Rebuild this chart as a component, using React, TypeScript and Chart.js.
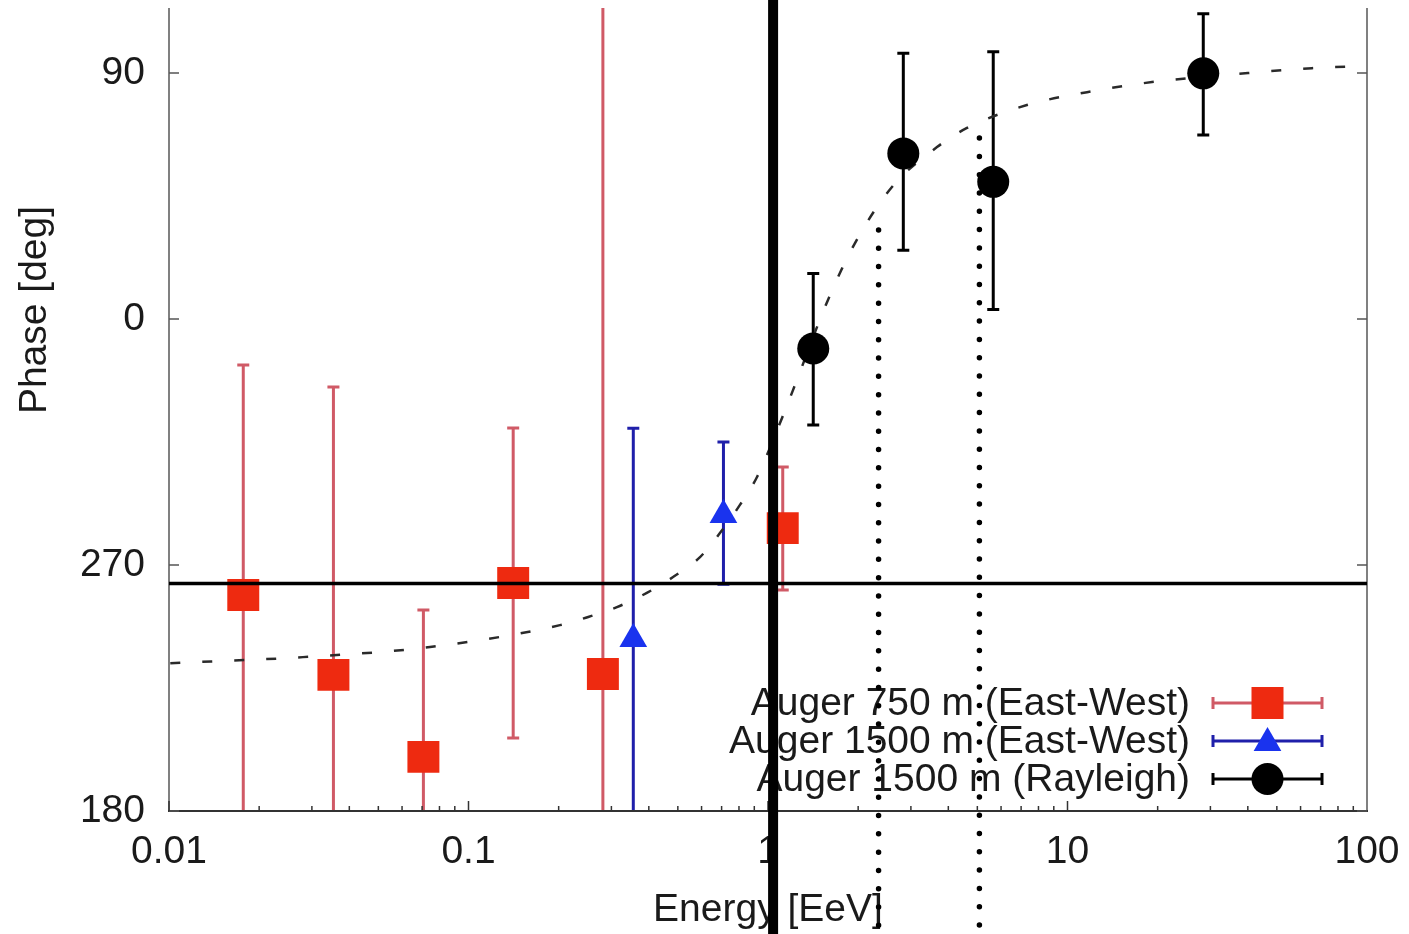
import React, { useEffect, useRef } from 'react';
import { Chart, registerables } from 'chart.js';

Chart.register(...registerables);

const FONT = '"Liberation Sans", Arial, Helvetica, sans-serif';
const TEXT = '#1a1a1a';

// Axis ticks
const xTickValues = [0.01, 0.1, 1, 10, 100];
const xTickLabels = ['0.01', '0.1', '1', '10', '100'];
const yTickValues = [180, 270, 360, 450];
const yTickLabels = ['180', '270', '0', '90'];
const yMin = 180;
const yMax = 473.8;

// Auger 750 m (East-West)
const redEnergy = [0.0177, 0.0354, 0.0707, 0.141, 0.281, 1.12];
const redPhase = [259.0, 229.8, 199.8, 263.4, 230.1, 283.5];
const redLow = [150, 150, 150, 206.7, 150, 260.9];
const redHigh = [343.2, 335.1, 253.5, 320.1, 520, 305.9];

// Auger 1500 m (East-West)
const blueEnergy = [0.355, 0.71];
const bluePhase = [242.9, 288.3];
const blueLow = [150, 263.0];
const blueHigh = [320.0, 315.0];

// Auger 1500 m (Rayleigh)
const blackEnergy = [1.416, 2.83, 5.65, 28.4];
const blackPhase = [349.2, 420.6, 410.2, 449.9];
const blackLow = [321.2, 385.2, 363.5, 427.3];
const blackHigh = [376.7, 457.2, 457.8, 471.7];

// Dashed fit curve
const fitEnergy = [0.0101, 0.028, 0.0744, 0.202, 0.251, 0.313, 0.394, 0.482, 0.593, 0.691, 0.806, 0.919, 1.114, 1.212, 1.586, 1.952, 2.594, 3.667, 4.618, 7.32, 11.62, 19.15, 40.06, 65.5, 100];
const fitPhase = [234.1, 236.3, 240.0, 248.0, 251.0, 254.6, 259.8, 265.6, 272.9, 281.7, 292.0, 302.2, 323.8, 334.0, 367.0, 387.8, 408.3, 422.9, 429.9, 438.3, 443.0, 446.7, 450.0, 451.8, 452.6];

// Annotations
const refLinePhase = 263.2;
const thickLineEnergy = 1.04;
const dottedEnergy = [2.34, 5.08];
const dottedTop = [392.6, 426.2];
const dottedBottom = 138;

const legendLabels = ['Auger 750 m (East-West)', 'Auger 1500 m (East-West)', 'Auger 1500 m (Rayleigh)'];

const RED_FILL = '#ee2a10';
const RED_BAR = '#d05a66';
const BLUE_FILL = '#1a33ee';
const BLUE_BAR = '#1f1faa';
const BLACK = '#000000';

function toPts(xs: number[], ys: number[]) {
  return xs.map((x, i) => ({ x, y: ys[i] }));
}

function drawMarker(ctx: CanvasRenderingContext2D, style: string, x: number, y: number, color: string) {
  ctx.save();
  ctx.fillStyle = color;
  ctx.beginPath();
  if (style === 'rect') {
    ctx.rect(x - 16, y - 16, 32, 32);
  } else if (style === 'triangle') {
    const r = 16;
    ctx.moveTo(x, y - r);
    ctx.lineTo(x + 0.866 * r, y + 0.5 * r);
    ctx.lineTo(x - 0.866 * r, y + 0.5 * r);
    ctx.closePath();
  } else {
    ctx.arc(x, y, 16, 0, Math.PI * 2);
  }
  ctx.fill();
  ctx.restore();
}

const overlayPlugin = {
  id: 'overlay',
  beforeDatasetsDraw(chart: any) {
    const { ctx, chartArea, scales } = chart;
    const xs = scales.x;
    const ys = scales.y;
    ctx.save();
    ctx.beginPath();
    ctx.rect(chartArea.left, chartArea.top, chartArea.right - chartArea.left, chartArea.bottom - chartArea.top);
    ctx.clip();
    const groups = [
      { e: redEnergy, lo: redLow, hi: redHigh, c: RED_BAR },
      { e: blueEnergy, lo: blueLow, hi: blueHigh, c: BLUE_BAR },
      { e: blackEnergy, lo: blackLow, hi: blackHigh, c: BLACK },
    ];
    groups.forEach((g) => {
      ctx.strokeStyle = g.c;
      ctx.lineWidth = 3;
      g.e.forEach((en, i) => {
        const px = xs.getPixelForValue(en);
        const y1 = ys.getPixelForValue(g.lo[i]);
        const y2 = ys.getPixelForValue(g.hi[i]);
        ctx.beginPath();
        ctx.moveTo(px, y1);
        ctx.lineTo(px, y2);
        ctx.moveTo(px - 6, y1);
        ctx.lineTo(px + 6, y1);
        ctx.moveTo(px - 6, y2);
        ctx.lineTo(px + 6, y2);
        ctx.stroke();
      });
    });
    ctx.restore();
  },
  afterDatasetsDraw(chart: any) {
    const { ctx, chartArea, scales } = chart;
    const xs = scales.x;
    const ys = scales.y;
    const { left, right, top, bottom } = chartArea;
    ctx.save();

    // frame
    ctx.lineWidth = 2;
    ctx.strokeStyle = '#808080';
    ctx.beginPath();
    ctx.moveTo(left, top);
    ctx.lineTo(left, bottom);
    ctx.moveTo(right, top);
    ctx.lineTo(right, bottom);
    ctx.stroke();
    ctx.strokeStyle = '#333333';
    ctx.beginPath();
    ctx.moveTo(left - 1, bottom);
    ctx.lineTo(right + 1, bottom);
    ctx.stroke();

    // y ticks (inward, both sides)
    ctx.strokeStyle = '#555555';
    ctx.lineWidth = 1.5;
    yTickValues.forEach((v) => {
      const py = ys.getPixelForValue(v);
      ctx.beginPath();
      ctx.moveTo(left, py);
      ctx.lineTo(left + 10, py);
      ctx.moveTo(right, py);
      ctx.lineTo(right - 10, py);
      ctx.stroke();
    });
    // x ticks (inward, log minor)
    ctx.strokeStyle = '#333333';
    for (let d = 0.01; d < 100; d *= 10) {
      for (let m = 1; m <= 9; m++) {
        const v = d * m;
        const px = xs.getPixelForValue(v);
        const len = m === 1 ? 10 : 5;
        ctx.beginPath();
        ctx.moveTo(px, bottom);
        ctx.lineTo(px, bottom - len);
        ctx.stroke();
      }
    }

    // horizontal reference line
    ctx.strokeStyle = BLACK;
    ctx.lineWidth = 3.5;
    const hy = ys.getPixelForValue(refLinePhase);
    ctx.beginPath();
    ctx.moveTo(left, hy);
    ctx.lineTo(right, hy);
    ctx.stroke();

    // legend
    const legendStyles = [
      { s: 'rect', fill: RED_FILL, bar: RED_BAR },
      { s: 'triangle', fill: BLUE_FILL, bar: BLUE_BAR },
      { s: 'circle', fill: BLACK, bar: BLACK },
    ];
    ctx.font = `39px ${FONT}`;
    ctx.textAlign = 'right';
    ctx.textBaseline = 'middle';
    legendLabels.forEach((lab, i) => {
      const ry = 703 + i * 38;
      ctx.fillStyle = TEXT;
      ctx.fillText(lab, right - 177, ry + 1);
      const st = legendStyles[i];
      const x1 = right - 154;
      const x2 = right - 45;
      ctx.strokeStyle = st.bar;
      ctx.lineWidth = 3;
      ctx.beginPath();
      ctx.moveTo(x1, ry);
      ctx.lineTo(x2, ry);
      ctx.moveTo(x1, ry - 6);
      ctx.lineTo(x1, ry + 6);
      ctx.moveTo(x2, ry - 6);
      ctx.lineTo(x2, ry + 6);
      ctx.stroke();
      drawMarker(ctx, st.s, (x1 + x2) / 2, st.s === 'triangle' ? ry + 2 : ry, st.fill);
    });

    // y axis title
    ctx.save();
    ctx.translate(35, 310);
    ctx.rotate(-Math.PI / 2);
    ctx.textAlign = 'center';
    ctx.textBaseline = 'middle';
    ctx.fillStyle = TEXT;
    ctx.font = `39px ${FONT}`;
    ctx.fillText('Phase [deg]', 0, 0);
    ctx.restore();

    // dotted vertical lines
    ctx.strokeStyle = BLACK;
    ctx.lineWidth = 5.5;
    ctx.lineCap = 'round';
    ctx.setLineDash([0, 18.3]);
    dottedEnergy.forEach((en, i) => {
      const px = xs.getPixelForValue(en);
      ctx.beginPath();
      ctx.moveTo(px, ys.getPixelForValue(dottedTop[i]));
      ctx.lineTo(px, ys.getPixelForValue(dottedBottom));
      ctx.stroke();
    });
    ctx.setLineDash([]);
    ctx.lineCap = 'butt';

    // thick vertical line
    const tx = xs.getPixelForValue(thickLineEnergy);
    ctx.lineWidth = 10;
    ctx.beginPath();
    ctx.moveTo(tx, 0);
    ctx.lineTo(tx, chart.height);
    ctx.stroke();

    ctx.restore();
  },
};

export default function App() {
  const ref = useRef<HTMLCanvasElement | null>(null);
  useEffect(() => {
    if (!ref.current) return;
    const chart = new Chart(ref.current, {
      type: 'scatter',
      data: {
        datasets: [
          {
            label: legendLabels[0],
            data: toPts(redEnergy, redPhase),
            pointStyle: 'rect',
            pointRadius: 22.6,
            pointBackgroundColor: RED_FILL,
            pointBorderWidth: 0,
            borderColor: RED_FILL,
            backgroundColor: RED_FILL,
          },
          {
            label: legendLabels[1],
            data: toPts(blueEnergy, bluePhase),
            pointStyle: 'triangle',
            pointRadius: 16,
            pointBackgroundColor: BLUE_FILL,
            pointBorderWidth: 0,
            borderColor: BLUE_FILL,
            backgroundColor: BLUE_FILL,
          },
          {
            label: legendLabels[2],
            data: toPts(blackEnergy, blackPhase),
            pointStyle: 'circle',
            pointRadius: 16,
            pointBackgroundColor: BLACK,
            pointBorderWidth: 0,
            borderColor: BLACK,
            backgroundColor: BLACK,
          },
          {
            type: 'line',
            label: 'fit',
            data: toPts(fitEnergy, fitPhase),
            borderColor: '#2a2a2a',
            borderWidth: 2.5,
            borderDash: [10, 22],
            pointRadius: 0,
            cubicInterpolationMode: 'monotone',
            fill: false,
          } as any,
        ],
      },
      options: {
        animation: false,
        responsive: false,
        maintainAspectRatio: false,
        devicePixelRatio: 1,
        layout: { autoPadding: false, padding: { top: 8, right: 42, left: 0, bottom: 0 } },
        plugins: { legend: { display: false }, title: { display: false }, tooltip: { enabled: false } },
        scales: {
          x: {
            type: 'logarithmic',
            min: 0.01,
            max: 100,
            grid: { display: false, drawTicks: false },
            border: { display: false },
            afterBuildTicks: (s: any) => {
              s.ticks = xTickValues.map((v) => ({ value: v }));
            },
            afterFit: (s: any) => {
              s.height = 123;
              s.paddingLeft = 0;
              s.paddingRight = 0;
            },
            ticks: {
              autoSkip: false,
              maxRotation: 0,
              minRotation: 0,
              padding: 18,
              color: TEXT,
              font: { family: FONT, size: 39 },
              callback: (v: any) => {
                const i = xTickValues.indexOf(Number(v));
                return i >= 0 ? xTickLabels[i] : '';
              },
            },
            title: {
              display: true,
              text: 'Energy [EeV]',
              color: TEXT,
              font: { family: FONT, size: 39 },
              padding: { top: 0, bottom: 0 },
            },
          },
          y: {
            type: 'linear',
            min: yMin,
            max: yMax,
            grid: { display: false, drawTicks: false },
            border: { display: false },
            afterBuildTicks: (s: any) => {
              s.ticks = yTickValues.map((v) => ({ value: v }));
            },
            afterFit: (s: any) => {
              s.width = 169;
              s.paddingTop = 0;
              s.paddingBottom = 0;
            },
            ticks: {
              autoSkip: false,
              padding: 24,
              color: TEXT,
              font: { family: FONT, size: 39 },
              callback: (v: any) => {
                const i = yTickValues.indexOf(Number(v));
                return i >= 0 ? yTickLabels[i] : '';
              },
            },
          },
        },
      } as any,
      plugins: [overlayPlugin as any],
    });
    return () => chart.destroy();
  }, []);

  return (
    <div style={{ position: 'absolute', left: 0, top: 0, width: 1409, height: 934, background: '#ffffff' }}>
      <canvas ref={ref} width={1409} height={934} style={{ display: 'block' }} />
    </div>
  );
}
